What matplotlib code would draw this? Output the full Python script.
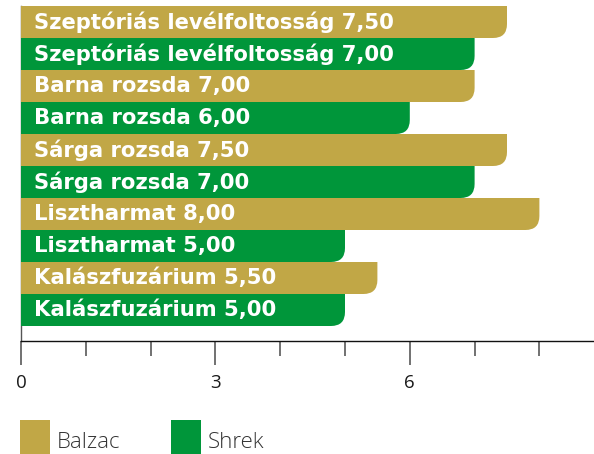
import matplotlib.pyplot as plt
from matplotlib.path import Path
from matplotlib.patches import PathPatch, Rectangle

plt.rcParams['font.family'] = ['Open Sans', 'DejaVu Sans']

# data, top to bottom
diseases = ['Szeptóriás levélfoltosság', 'Barna rozsda', 'Sárga rozsda',
            'Lisztharmat', 'Kalászfuzárium']
balzac = [7.5, 7.0, 7.5, 8.0, 5.5]
shrek = [7.0, 6.0, 7.0, 5.0, 5.0]
series_names = ['Balzac', 'Shrek']
colors = ['#C1A746', '#00963A']
xticks_major = [0, 3, 6]
xticks_minor = [1, 2, 4, 5, 7, 8]

W, H = 594, 454
fig = plt.figure(figsize=(W / 100, H / 100), dpi=100)
ax_left, ax_bottom = 21 / W, (H - 341) / H
ax_top = 1 - 6 / H
ax = fig.add_axes([ax_left, ax_bottom, 1 - ax_left, ax_top - ax_bottom])

xmax = (W - 21) / 64.8
n = len(diseases) * 2
bar_px = 32
gap = 15 / bar_px
ax.set_xlim(0, xmax)
ax.set_ylim(-0.5 - gap, n - 0.5)

# pixel -> data scale for rounded corners
px_x = xmax / (W - 21)
px_y = (n + gap) / (341 - 6)
r = 14
rx, ry = r * px_x, r * px_y


def rounded_bar(ax, y, w, color):
    yb, yt = y - 0.5, y + 0.5
    verts = [(0, yb), (0, yt), (w, yt), (w, yb + ry), (w, yb), (w - rx, yb), (0, yb)]
    codes = [Path.MOVETO, Path.LINETO, Path.LINETO, Path.LINETO,
             Path.CURVE3, Path.CURVE3, Path.CLOSEPOLY]
    ax.add_patch(PathPatch(Path(verts, codes), facecolor=color, edgecolor='none', zorder=3))


def fmt(v):
    return f'{v:.2f}'.replace('.', ',')


row = n - 1
for d, b, s in zip(diseases, balzac, shrek):
    for val, col in ((b, colors[0]), (s, colors[1])):
        rounded_bar(ax, row, val, col)
        ax.annotate(f'{d} {fmt(val)}', (0, row), xytext=(9, 0), textcoords='offset points',
                    ha='left', va='center', color='white', fontsize=15.2, fontweight='bold',
                    family='DejaVu Sans', zorder=4)
        row -= 1

for sp in ['top', 'right']:
    ax.spines[sp].set_visible(False)
ax.spines['left'].set_color('#555555')
ax.spines['left'].set_linewidth(1)
ax.spines['bottom'].set_color('#111111')
ax.spines['bottom'].set_linewidth(1)
ax.set_yticks([])
ax.set_xticks(xticks_major)
ax.set_xticklabels([str(t) for t in xticks_major])
ax.set_xticks(xticks_minor, minor=True)
ax.tick_params(axis='x', which='major', length=17, width=1.3, color='#666666',
               pad=7, labelsize=13.5, labelcolor='#1a1a1a')
ax.tick_params(axis='x', which='minor', length=11, width=1.3, color='#666666')

# legend
lx = [20, 171]
for name, col, x in zip(series_names, colors, lx):
    fig.patches.append(Rectangle((x / W, 0), 30 / W, 34 / H, transform=fig.transFigure,
                                 facecolor=col, edgecolor='none'))
    fig.text((x + 37) / W, 1 / H, name, fontsize=16, fontweight='light',
             color='#333333', ha='left', va='bottom')

fig.savefig('out.png', dpi=100)
